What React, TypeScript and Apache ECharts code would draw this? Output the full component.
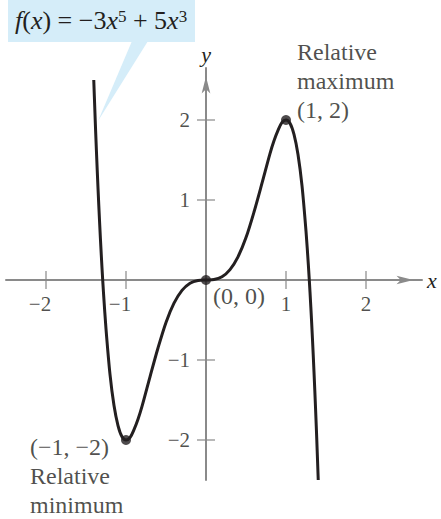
import React, { useEffect, useRef } from "react";
import * as echarts from "echarts";

// Curve points: [x, y]
const curvePoints: [number, number][] = [
  [-1.403, 2.5], [-1.39, 2.14], [-1.38, 1.87], [-1.36, 1.38], [-1.34, 0.93],
  [-1.32, 0.52], [-1.3, 0.15], [-1.28, -0.18], [-1.25, -0.61], [-1.2, -1.18],
  [-1.15, -1.57], [-1.1, -1.82], [-1.05, -1.96], [-1.0, -2.0], [-0.95, -1.97],
  [-0.9, -1.87], [-0.85, -1.74], [-0.8, -1.58], [-0.7, -1.21], [-0.6, -0.85],
  [-0.5, -0.53], [-0.4, -0.29], [-0.3, -0.13], [-0.2, -0.04], [-0.1, -0.005],
  [0, 0],
  [0.1, 0.005], [0.2, 0.04], [0.3, 0.13], [0.4, 0.29], [0.5, 0.53],
  [0.6, 0.85], [0.7, 1.21], [0.8, 1.58], [0.85, 1.74], [0.9, 1.87],
  [0.95, 1.97], [1.0, 2.0], [1.05, 1.96], [1.1, 1.82], [1.15, 1.57],
  [1.2, 1.18], [1.25, 0.61], [1.28, 0.18], [1.3, -0.15], [1.32, -0.52],
  [1.34, -0.93], [1.36, -1.38], [1.38, -1.87], [1.39, -2.14], [1.403, -2.5],
];

const xTickValues = [-2, -1, 1, 2];
const yTickValues = [-2, -1, 1, 2];

const keyPoints: [number, number][] = [[1, 2], [0, 0], [-1, -2]];
const keyPointTexts = [
  "Relative\nmaximum\n(1, 2)",
  "(0, 0)",
  "(−1, −2)\nRelative\nminimum",
];

const xRange = [-2.5, 2.7];
const yRange = [-2.5, 2.65];

const FONT = "'Liberation Serif', 'Times New Roman', serif";
const INK = "#231f20";
const AXIS_GRAY = "#8a8a8a";
const CALLOUT = "#d5edf9";

const tickLabel = (v: number) => (v < 0 ? `−${-v}` : `${v}`);

const keyLabelLayouts = [
  { align: "left", verticalAlign: "top", offset: [11, -82.5], lineHeight: 29 },
  { align: "left", verticalAlign: "middle", offset: [7, 15.5], lineHeight: 26 },
  { align: "left", verticalAlign: "top", offset: [-96, -7.5], lineHeight: 29 },
];

export default function App() {
  const ref = useRef<HTMLDivElement>(null);

  useEffect(() => {
    if (!ref.current) return;
    const chart = echarts.init(ref.current, undefined, { renderer: "svg" });

    const axisLine = {
      show: true,
      onZero: true,
      symbol: ["none", "arrow"],
      symbolSize: [6.5, 17],
      symbolOffset: [0, -8.5],
      lineStyle: { color: AXIS_GRAY, width: 2 },
    };

    chart.setOption({
      animation: false,
      grid: {
        left: 6,
        right: 441 - 422,
        top: 68,
        bottom: 519 - 480,
        containLabel: false,
        outerBoundsMode: "none",
      },
      xAxis: {
        type: "value",
        min: xRange[0],
        max: xRange[1],
        axisLine,
        axisTick: { show: false },
        axisLabel: { show: false },
        splitLine: { show: false },
        name: "x",
        nameLocation: "end",
        nameGap: 5,
        nameTextStyle: {
          fontFamily: FONT,
          fontStyle: "italic",
          fontSize: 22,
          color: INK,
          verticalAlign: "middle",
          padding: [0, 0, 4, 0],
        },
      },
      yAxis: {
        type: "value",
        min: yRange[0],
        max: yRange[1],
        axisLine,
        axisTick: { show: false },
        axisLabel: { show: false },
        splitLine: { show: false },
        name: "y",
        nameLocation: "end",
        nameGap: 3,
        nameTextStyle: {
          fontFamily: FONT,
          fontStyle: "italic",
          fontSize: 22,
          color: INK,
          align: "center",
        },
      },
      graphic: [
        {
          type: "rect",
          shape: { x: 8, y: 0, width: 187, height: 42 },
          style: { fill: CALLOUT },
          z: 1,
        },
        {
          type: "polygon",
          shape: { points: [[132, 41], [148, 41], [98, 121]] },
          style: { fill: CALLOUT },
          z: 1,
        },
        {
          type: "text",
          x: 15,
          y: 20.5,
          z: 2,
          style: {
            text: "{i|f}{n|(}{i|x}{n|) = −3}{i|x}{s|5}{n| + 5}{i|x}{s|3}",
            align: "left",
            verticalAlign: "middle",
            fill: INK,
            rich: {
              n: { fontFamily: FONT, fontSize: 26, lineHeight: 26, fill: INK },
              i: { fontFamily: FONT, fontSize: 26, lineHeight: 26, fontStyle: "italic", fill: INK },
              s: { fontFamily: FONT, fontSize: 17, lineHeight: 23, verticalAlign: "top", fill: INK },
            },
          },
        },
      ],
      series: [
        {
          type: "scatter",
          name: "xTicks",
          silent: true,
          symbol: "rect",
          symbolSize: [1.5, 18],
          itemStyle: { color: AXIS_GRAY },
          z: 1,
          label: {
            show: true,
            position: "inside",
            fontFamily: FONT,
            fontSize: 21,
            color: INK,
          },
          data: xTickValues.map((v) => ({
            value: [v, 0],
            label: { formatter: tickLabel(v), offset: [v < 0 ? -6 : 0, 23.5] },
          })),
        },
        {
          type: "scatter",
          name: "yTicks",
          silent: true,
          symbol: "rect",
          symbolSize: [18, 1.5],
          itemStyle: { color: AXIS_GRAY },
          z: 1,
          label: {
            show: true,
            position: "left",
            distance: 7,
            fontFamily: FONT,
            fontSize: 21,
            color: INK,
          },
          data: yTickValues.map((v) => ({
            value: [0, v],
            label: { formatter: tickLabel(v) },
          })),
        },
        {
          type: "line",
          name: "f",
          silent: true,
          smooth: 0.3,
          symbol: "none",
          clip: false,
          lineStyle: { color: INK, width: 3 },
          data: curvePoints,
          z: 3,
        },
        {
          type: "scatter",
          name: "keyPoints",
          silent: true,
          symbol: "circle",
          symbolSize: 10,
          itemStyle: { color: INK },
          z: 4,
          label: {
            show: true,
            position: "inside",
            fontFamily: FONT,
            fontSize: 24,
            color: INK,
          },
          data: keyPoints.map((p, i) => ({
            value: p,
            label: { formatter: keyPointTexts[i], ...keyLabelLayouts[i] },
          })),
        },
      ],
    });

    return () => chart.dispose();
  }, []);

  return (
    <div
      ref={ref}
      style={{ position: "fixed", left: 0, top: 0, width: 441, height: 519, background: "#fff" }}
    />
  );
}
